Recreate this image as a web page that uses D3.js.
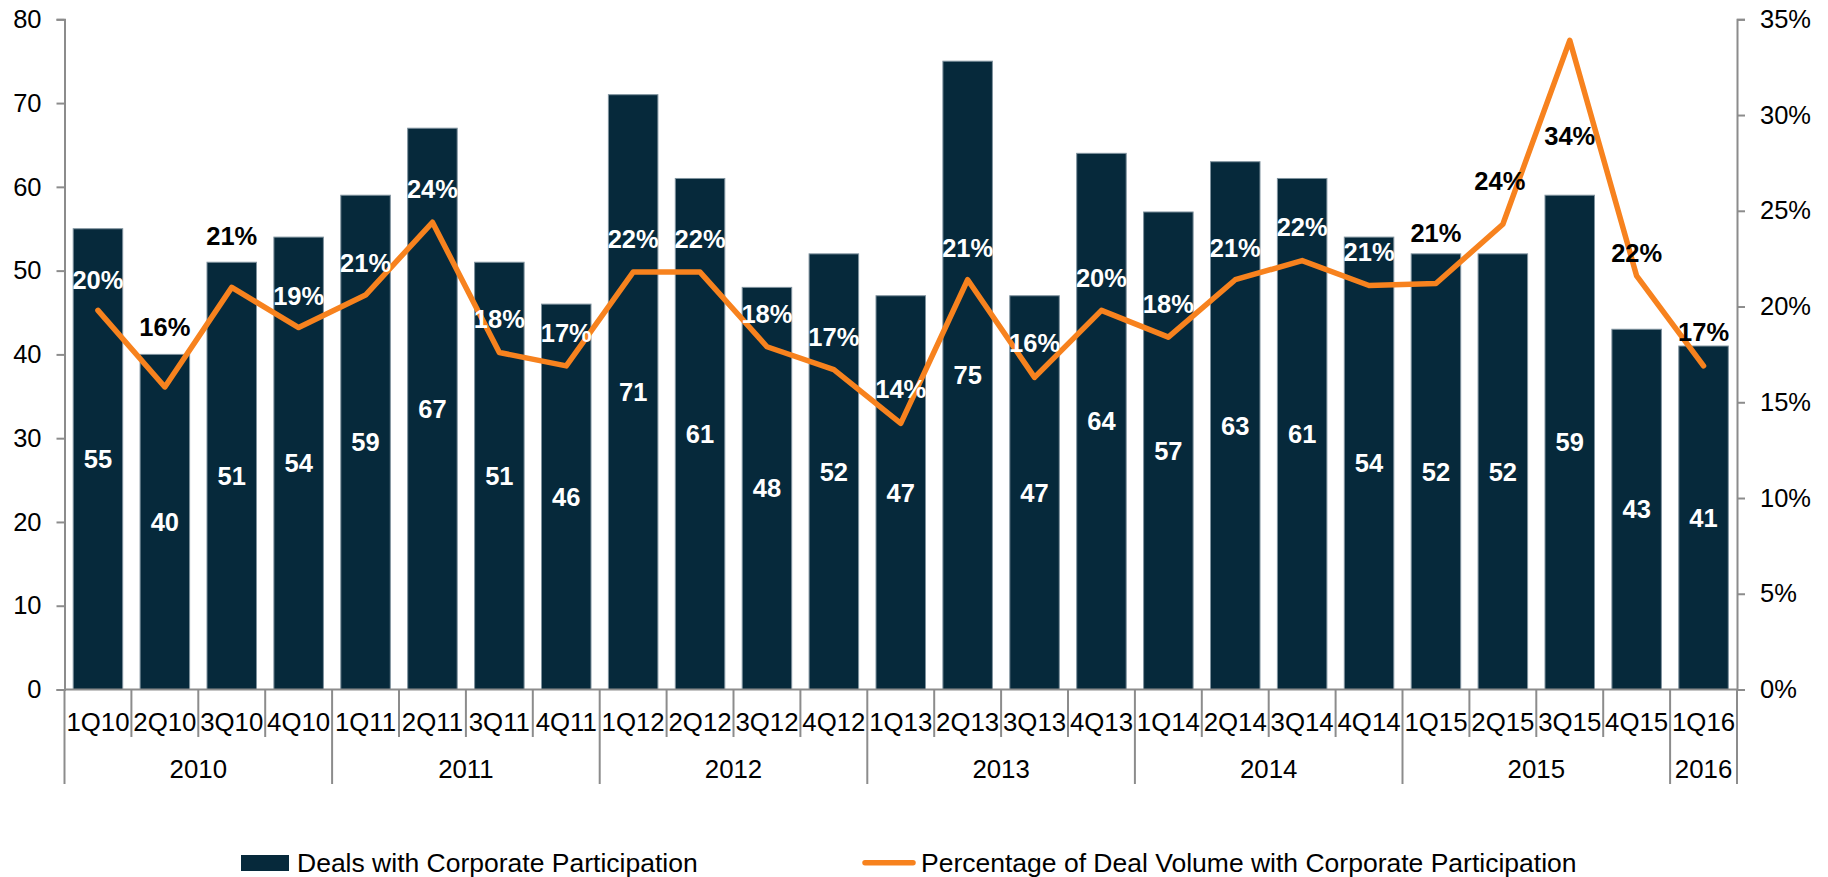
<!DOCTYPE html>
<html>
<head>
<meta charset="utf-8">
<script src="https://cdn.jsdelivr.net/npm/d3@7"></script>
<style>
  html, body { margin: 0; padding: 0; background: #ffffff; }
  svg { display: block; font-family: "Liberation Sans", Arial, sans-serif; }
</style>
</head>
<body>
<svg id="chart" width="1828" height="877"></svg>
<script>
// ---------- data ----------
const quarters = ["1Q10","2Q10","3Q10","4Q10","1Q11","2Q11","3Q11","4Q11","1Q12","2Q12","3Q12","4Q12",
                  "1Q13","2Q13","3Q13","4Q13","1Q14","2Q14","3Q14","4Q14","1Q15","2Q15","3Q15","4Q15","1Q16"];
const deals = [55,40,51,54,59,67,51,46,71,61,48,52,47,75,47,64,57,63,61,54,52,52,59,43,41];
const pctCorporate = [19.8,15.8,21.0,18.9,20.6,24.4,17.6,16.9,21.8,21.8,17.9,16.7,13.9,21.4,16.3,19.8,18.4,21.4,22.4,21.1,21.2,24.3,33.9,21.6,16.9];
const leftTicks = [0,10,20,30,40,50,60,70,80];
const rightTicks = [0,5,10,15,20,25,30,35];
const seriesNames = ["Deals with Corporate Participation", "Percentage of Deal Volume with Corporate Participation"];

// ---------- layout / style ----------
const pctLabelDy = [-30,-60,-51,-32,-32,-33,-33,-33,-33,-33,-33,-33,-34,-32,-34,-32,-33,-32,-33,-33,-50,-43,96,-23,-34];
const barColor = "#06293b";
const lineColor = "#f7821e";
const axisColor = "#8c8c8c";
const plot = { left: 64.5, right: 1737, top: 19.3, bottom: 689.5 };

const svg = d3.select("#chart");

const x = d3.scaleBand().domain(quarters).range([plot.left, plot.right]).paddingInner(0.26).paddingOuter(0.13);
const yL = d3.scaleLinear().domain([0, 80]).range([plot.bottom, plot.top]);
const yR = d3.scaleLinear().domain([0, 35]).range([plot.bottom, plot.top]);

// bars
svg.append("g").selectAll("rect").data(deals).join("rect")
  .attr("x", (d, i) => x(quarters[i]))
  .attr("y", d => yL(d))
  .attr("width", x.bandwidth())
  .attr("height", d => yL(0) - yL(d))
  .attr("fill", barColor)
  .attr("stroke", "#7f929e")
  .attr("stroke-width", 1);

// left axis
const axL = svg.append("g").attr("transform", `translate(${plot.left},0)`)
  .call(d3.axisLeft(yL).tickValues(leftTicks).tickSize(8).tickPadding(15).tickFormat(d3.format("d")));
axL.select(".domain").attr("stroke", axisColor).attr("stroke-width", 2);
axL.selectAll(".tick line").attr("stroke", axisColor).attr("stroke-width", 2);
axL.selectAll(".tick text").attr("font-size", 25.5).attr("fill", "#000").attr("font-family", "Liberation Sans, Arial, sans-serif");

// right axis
const axR = svg.append("g").attr("transform", `translate(${plot.right},0)`)
  .call(d3.axisRight(yR).tickValues(rightTicks).tickSize(8).tickPadding(15).tickFormat(d => d + "%"));
axR.select(".domain").attr("stroke", axisColor).attr("stroke-width", 2);
axR.selectAll(".tick line").attr("stroke", axisColor).attr("stroke-width", 2);
axR.selectAll(".tick text").attr("font-size", 25.5).attr("fill", "#000").attr("font-family", "Liberation Sans, Arial, sans-serif");

// baseline
svg.append("line")
  .attr("x1", plot.left).attr("x2", plot.right)
  .attr("y1", yL(0)).attr("y2", yL(0))
  .attr("stroke", axisColor).attr("stroke-width", 2);

// category axis: quarter separators & labels
const catG = svg.append("g");
const qBottom = 737, yBottom = 784;
const years = quarters.map(q => "20" + q.slice(2));
const boundaries = d3.range(quarters.length + 1);
const bw = (plot.right - plot.left) / quarters.length;
catG.selectAll("line.sep").data(boundaries).join("line")
  .attr("class", "sep")
  .attr("x1", i => plot.left + i * bw)
  .attr("x2", i => plot.left + i * bw)
  .attr("y1", yL(0))
  .attr("y2", i => (i === 0 || i === quarters.length || years[i] !== years[i - 1]) ? yBottom : qBottom)
  .attr("stroke", axisColor).attr("stroke-width", 2);

catG.selectAll("text.q").data(quarters).join("text")
  .attr("class", "q")
  .attr("x", q => x(q) + x.bandwidth() / 2)
  .attr("y", 730.5)
  .attr("text-anchor", "middle")
  .attr("font-size", 25.8)
  .attr("fill", "#000")
  .text(q => q);

const yearGroups = d3.groups(quarters, q => "20" + q.slice(2));
catG.selectAll("text.yr").data(yearGroups).join("text")
  .attr("class", "yr")
  .attr("x", g => {
    const first = quarters.indexOf(g[1][0]);
    const last = quarters.indexOf(g[1][g[1].length - 1]);
    return plot.left + (first + last + 1) / 2 * bw;
  })
  .attr("y", 778)
  .attr("text-anchor", "middle")
  .attr("font-size", 25.8)
  .attr("fill", "#000")
  .text(g => g[0]);

// line
const cx = i => x(quarters[i]) + x.bandwidth() / 2;
const line = d3.line().x((d, i) => cx(i)).y(d => yR(d));
svg.append("path")
  .datum(pctCorporate)
  .attr("d", line)
  .attr("fill", "none")
  .attr("stroke", lineColor)
  .attr("stroke-width", 5.5)
  .attr("stroke-linejoin", "round")
  .attr("stroke-linecap", "round");

// bar value labels (centered in bar)
svg.append("g").selectAll("text").data(deals).join("text")
  .attr("x", (d, i) => cx(i))
  .attr("y", d => (yL(d) + yL(0)) / 2)
  .attr("dy", "0.35em")
  .attr("text-anchor", "middle")
  .attr("font-size", 25.5)
  .attr("font-weight", "bold")
  .attr("fill", "#ffffff")
  .text(d => d);

// percentage labels
svg.append("g").selectAll("text").data(pctCorporate).join("text")
  .attr("x", (d, i) => cx(i) + (i === 21 ? -3 : 0))
  .attr("y", (d, i) => yR(d) + pctLabelDy[i])
  .attr("dy", "0.35em")
  .attr("text-anchor", "middle")
  .attr("font-size", 25.5)
  .attr("font-weight", "bold")
  .attr("fill", (d, i) => (yR(d) + pctLabelDy[i] > yL(deals[i])) ? "#ffffff" : "#000000")
  .text(d => Math.round(d) + "%");

// legend
const lg = svg.append("g");
lg.append("rect").attr("x", 241).attr("y", 855).attr("width", 48).attr("height", 16).attr("fill", barColor);
lg.append("text").attr("x", 297).attr("y", 872).attr("font-size", 26.5).attr("fill", "#000").text(seriesNames[0]);
lg.append("line").attr("x1", 865).attr("x2", 913).attr("y1", 862.7).attr("y2", 862.7)
  .attr("stroke", lineColor).attr("stroke-width", 5.5).attr("stroke-linecap", "round");
lg.append("text").attr("x", 921).attr("y", 872).attr("font-size", 26.5).attr("fill", "#000").text(seriesNames[1]);
</script>
</body>
</html>
